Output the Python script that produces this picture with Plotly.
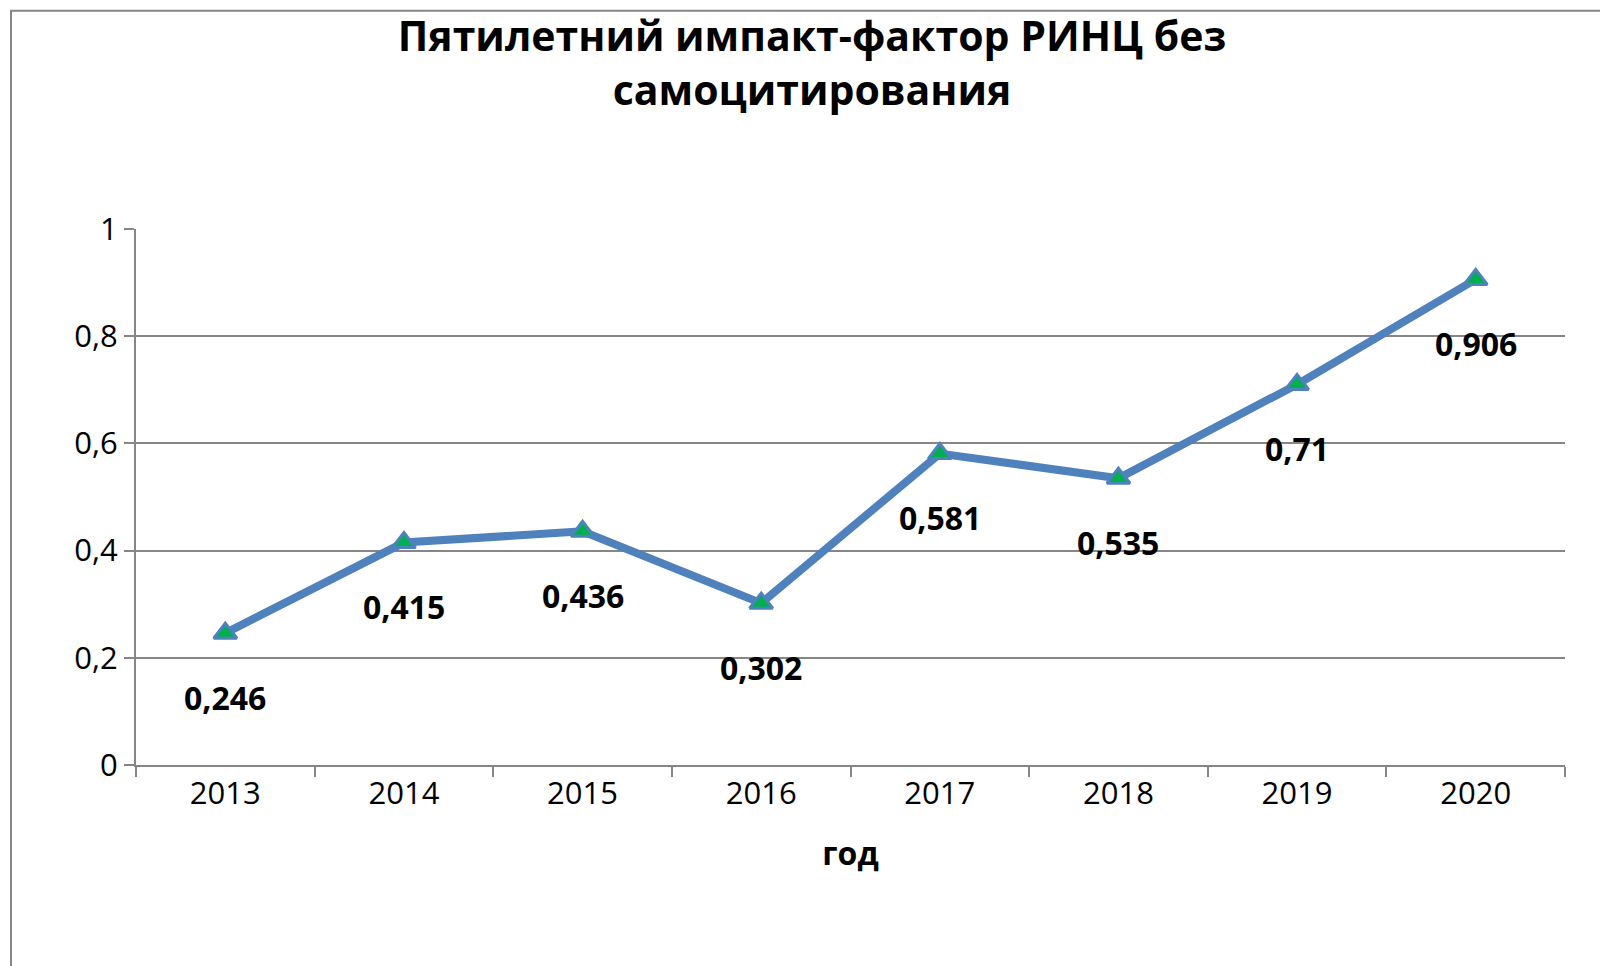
import plotly.graph_objects as go

years = ["2013", "2014", "2015", "2016", "2017", "2018", "2019", "2020"]
values = [0.246, 0.415, 0.436, 0.302, 0.581, 0.535, 0.71, 0.906]
labels = ["0,246", "0,415", "0,436", "0,302", "0,581", "0,535", "0,71", "0,906"]
y_ticks = [0, 0.2, 0.4, 0.6, 0.8, 1]
y_tick_text = ["0", "0,2", "0,4", "0,6", "0,8", "1"]

pos = list(range(len(years)))

fig = go.Figure()
fig.add_trace(go.Scatter(
    x=pos, y=values, mode="lines+markers",
    line=dict(color="#4F81BD", width=8),
    marker=dict(symbol="triangle-up", size=20, color="#00B050",
                line=dict(color="#4F81BD", width=3)),
    cliponaxis=False, showlegend=False,
))

for p, v, t in zip(pos, values, labels):
    fig.add_annotation(x=p, y=v, text=t, showarrow=False, yshift=-64,
                       font=dict(family="Open Sans", size=32, color="black", weight="bold"))

grey = "#868686"
fig.update_layout(
    width=1608, height=966,
    margin=dict(l=128, r=51, t=221, b=209),
    plot_bgcolor="white", paper_bgcolor="white",
    font=dict(family="Open Sans", color="black"),
    title=dict(text="<b>Пятилетний импакт-фактор РИНЦ без<br>самоцитирования</b>",
               x=0.5, xanchor="center", y=0.955, yanchor="top",
               font=dict(size=41, color="black")),
    xaxis=dict(range=[-0.5, len(years) - 0.5], tickvals=pos, ticktext=years,
               ticks="", tickangle=0, showline=True, linecolor=grey, linewidth=2,
               showgrid=False, zeroline=False, tickfont=dict(size=31),
               minor=dict(tickvals=[i - 0.5 for i in range(len(years) + 1)],
                          ticks="outside", ticklen=10, tickwidth=2, tickcolor=grey,
                          showgrid=False),
               title=dict(text="<b>год</b>", font=dict(size=32), standoff=30)),
    yaxis=dict(range=[0, 1], tickvals=y_ticks, ticktext=y_tick_text, ticks="outside",
               ticklen=10, tickwidth=2, tickcolor=grey, showline=True, linecolor=grey,
               linewidth=2, gridcolor=grey, gridwidth=2, tickfont=dict(size=31),
               zeroline=False),
    shapes=[dict(type="rect", xref="paper", yref="paper",
                 x0=-125 / 1429, x1=1475 / 1429, y0=-0.3825, y1=1.407,
                 line=dict(color=grey, width=2))],
)

fig.write_html("out.html")
